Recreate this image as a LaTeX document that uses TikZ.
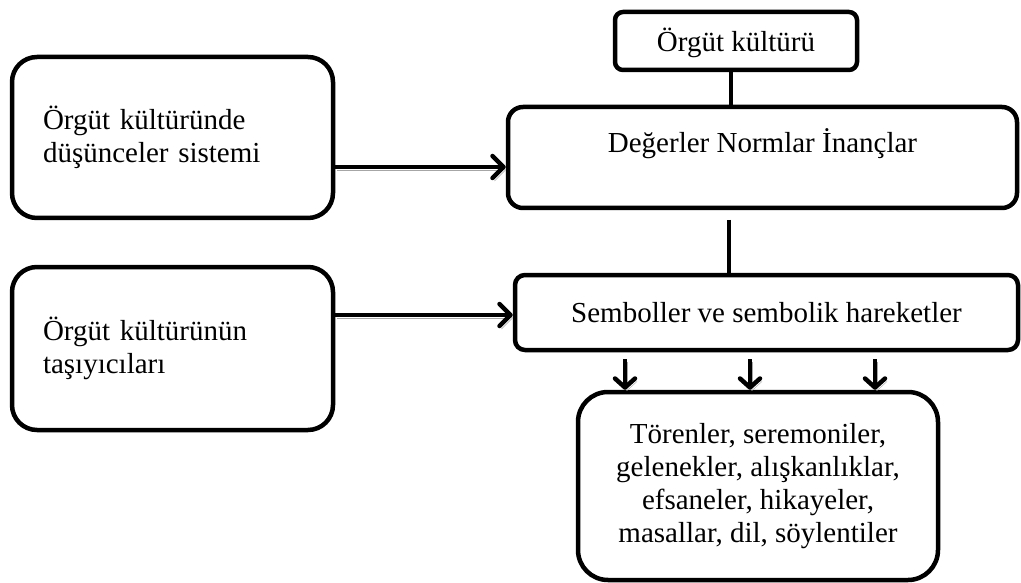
\documentclass[tikz,border=0pt]{standalone}
\usepackage{fontspec}
\setmainfont{Liberation Serif}
\usetikzlibrary{arrows.meta}
\tikzset{
  box/.style={draw=black, line width=4.5pt, fill=white, rectangle, inner sep=0pt,
    font=\fontsize{29}{33}\selectfont},
  conn/.style={draw=black, line width=4.5pt},
  shadowed/.style={preaction={draw=black!35, transform canvas={shift={(2pt,-3pt)}}}},
  arr/.style={conn, shadowed, -{Straight Barb[length=11pt,width=22pt,round]}},
  darr/.style={conn, shadowed, -{Straight Barb[length=9pt,width=20pt,round]}}
}
\begin{document}
\begin{tikzpicture}[x=1pt,y=-1pt]
\useasboundingbox (0,0) rectangle (1021,583);
% boxes
\node[box, rounded corners=8pt, minimum width=242pt, minimum height=58pt,
  text height=25pt, text depth=3pt] (tp) at (736,41) {Örgüt kültürü};
\node[box, rounded corners=15pt, minimum width=509pt, minimum height=101pt,
  text height=25pt, text depth=34pt] (dg) at (762.5,157.5) {Değerler Normlar İnançlar};
\node[box, rounded corners=10pt, minimum width=503pt, minimum height=75pt] (sb) at (766.5,312.5)
  {Semboller ve sembolik hareketler};
\node[box, rounded corners=25pt, minimum width=321pt, minimum height=161pt,
  text width=259pt, inner xsep=31pt, align=left] (b1) at (172.5,137.5)
  {Örgüt kültüründe\\düşünceler sistemi};
\node[box, rounded corners=25pt, minimum width=321pt, minimum height=163pt,
  text width=259pt, inner xsep=31pt, align=left] (b2) at (172.5,348.5)
  {Örgüt kültürünün\\taşıyıcıları};
\node[box, rounded corners=30pt, minimum width=360pt, minimum height=188pt,
  align=center] (bt) at (758,486)
  {Törenler, seremoniler,\\gelenekler, alışkanlıklar,\\efsaneler, hikayeler,\\masallar, dil, söylentiler};
% helper coordinates
\coordinate (l1) at (731,0);
\coordinate (l2) at (729,220);
\coordinate (y1) at (0,167);
\coordinate (y2) at (0,315);
\coordinate (a1) at (625,359);
\coordinate (a2) at (750,359);
\coordinate (a3) at (875,359);
% connectors
\draw[conn] (tp.south -| l1) -- (dg.north -| l1);
\draw[conn] (l2) -- (sb.north -| l2);
\draw[arr] (b1.east |- y1) -- (dg.west |- y1);
\draw[arr] (b2.east |- y2) -- (sb.west |- y2);
\draw[darr] (a1) -- (bt.north -| a1);
\draw[darr] (a2) -- (bt.north -| a2);
\draw[darr] (a3) -- (bt.north -| a3);
\end{tikzpicture}
\end{document}
